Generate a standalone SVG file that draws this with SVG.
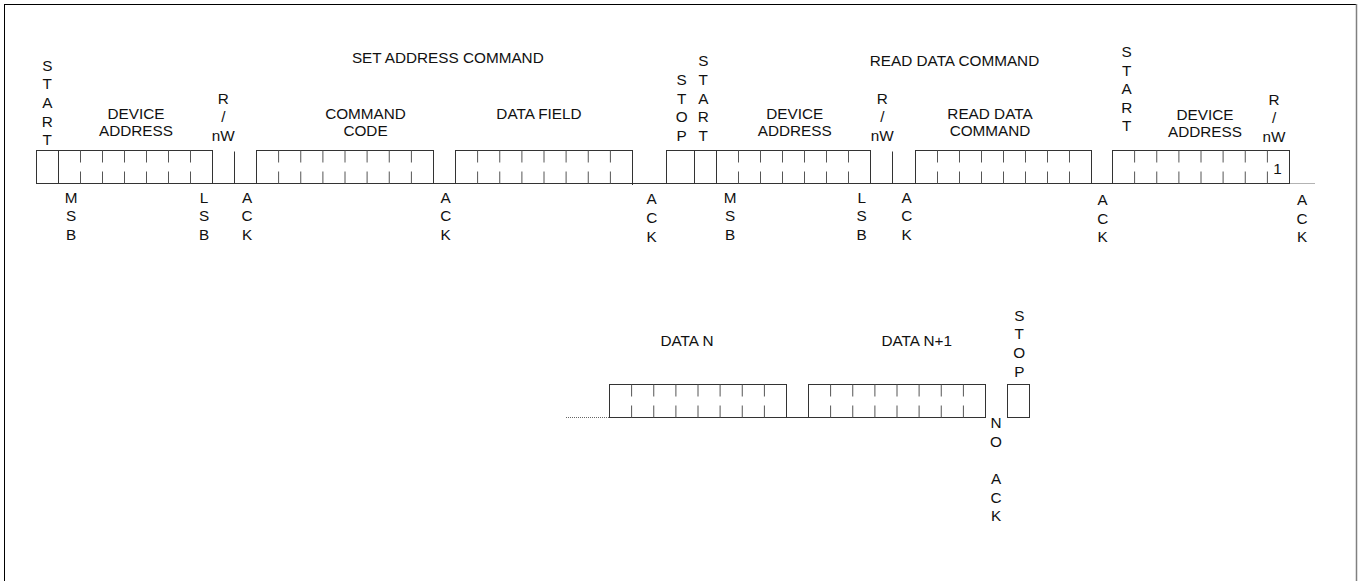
<svg xmlns="http://www.w3.org/2000/svg" width="1360" height="581" viewBox="0 0 1360 581">
<style>
  text { font-family: "Liberation Sans", Arial, sans-serif; font-size: 15.3px; fill: #111; text-anchor: middle; }
  .box { fill: none; stroke: #333; stroke-width: 1; }
  .tick { fill: none; stroke: #555; stroke-width: 1; }
  .base { fill: none; stroke: #333; stroke-width: 1; }
  .dot { fill: none; stroke: #666; stroke-width: 1; stroke-dasharray: 1 1; }
</style>
<rect x="0" y="0" width="1360" height="581" fill="#fff"/>
<g id="frame">
  <line x1="4" y1="4.5" x2="1357" y2="4.5" stroke="#000" stroke-width="1"/>
  <line x1="4.5" y1="4" x2="4.5" y2="581" stroke="#000" stroke-width="1"/>
  <line x1="1356.5" y1="4" x2="1356.5" y2="581" stroke="#808080" stroke-width="1.5"/>
</g>
<g id="connectors">
  <line class="base" x1="36.5" y1="183.5" x2="1289.5" y2="183.5"/>
  <line class="dot" x1="1289.5" y1="183.5" x2="1315" y2="183.5"/>
  <line class="base" x1="609.5" y1="417.5" x2="985.5" y2="417.5"/>
  <line class="dot" x1="566" y1="417.5" x2="609.5" y2="417.5"/>
</g>
<g id="headers">
  <text x="447.8" y="63.3">SET ADDRESS COMMAND</text>
  <text x="954.5" y="66">READ DATA COMMAND</text>
</g>
<g id="start1">
  <rect class="box" x="36.5" y="150.5" width="22" height="33"/>
  <text><tspan x="47.3" y="70.7">S</tspan><tspan x="47.3" y="89.3">T</tspan><tspan x="47.3" y="107.9">A</tspan><tspan x="47.3" y="126.5">R</tspan><tspan x="47.3" y="145.1">T</tspan></text>
</g>
<g id="device-address-1">
  <rect class="box" x="58.5" y="150.5" width="154" height="33"/>
  <path class="tick" d="M80.5,150.5v12M80.5,171.5v12M102.5,150.5v12M102.5,171.5v12M124.5,150.5v12M124.5,171.5v12M146.5,150.5v12M146.5,171.5v12M168.5,150.5v12M168.5,171.5v12M190.5,150.5v12M190.5,171.5v12"/>
  <text x="136" y="119.2">DEVICE</text>
  <text x="136" y="136.4">ADDRESS</text>
  <text><tspan x="71" y="202.7">M</tspan><tspan x="71" y="221.3">S</tspan><tspan x="71" y="239.9">B</tspan></text>
  <text><tspan x="204" y="202.7">L</tspan><tspan x="204" y="221.3">S</tspan><tspan x="204" y="239.9">B</tspan></text>
</g>
<g id="rnw-1">
  <line class="box" x1="234.5" y1="151.5" x2="234.5" y2="183.5"/>
  <text><tspan x="223.3" y="103.5">R</tspan><tspan x="223.3" y="122">/</tspan><tspan x="223.3" y="140.5">nW</tspan></text>
  <text><tspan x="247" y="202.7">A</tspan><tspan x="247" y="221.3">C</tspan><tspan x="247" y="239.9">K</tspan></text>
</g>
<g id="command-code">
  <rect class="box" x="256.5" y="150.5" width="177" height="33"/>
  <path class="tick" d="M278.6,150.5v12M278.6,171.5v12M300.75,150.5v12M300.75,171.5v12M322.9,150.5v12M322.9,171.5v12M345,150.5v12M345,171.5v12M367.1,150.5v12M367.1,171.5v12M389.25,150.5v12M389.25,171.5v12M411.4,150.5v12M411.4,171.5v12"/>
  <text x="365.5" y="119.2">COMMAND</text>
  <text x="365.5" y="136.4">CODE</text>
  <text><tspan x="445.7" y="202.7">A</tspan><tspan x="445.7" y="221.3">C</tspan><tspan x="445.7" y="239.9">K</tspan></text>
</g>
<g id="data-field">
  <rect class="box" x="455.5" y="150.5" width="177" height="33"/>
  <line class="box" x1="632.5" y1="183.5" x2="632.5" y2="185"/>
  <path class="tick" d="M477.6,150.5v12M477.6,171.5v12M499.75,150.5v12M499.75,171.5v12M521.9,150.5v12M521.9,171.5v12M544,150.5v12M544,171.5v12M566.1,150.5v12M566.1,171.5v12M588.25,150.5v12M588.25,171.5v12M610.4,150.5v12M610.4,171.5v12"/>
  <text x="539" y="119.2">DATA FIELD</text>
  <text><tspan x="651.7" y="204.3">A</tspan><tspan x="651.7" y="222.9">C</tspan><tspan x="651.7" y="241.5">K</tspan></text>
</g>
<g id="stop1">
  <rect class="box" x="666.5" y="150.5" width="28" height="33"/>
  <text><tspan x="681.7" y="85">S</tspan><tspan x="681.7" y="103.6">T</tspan><tspan x="681.7" y="122.2">O</tspan><tspan x="681.7" y="140.8">P</tspan></text>
</g>
<g id="start2">
  <rect class="box" x="694.5" y="150.5" width="22" height="33"/>
  <text><tspan x="703.3" y="66.4">S</tspan><tspan x="703.3" y="85">T</tspan><tspan x="703.3" y="103.6">A</tspan><tspan x="703.3" y="122.2">R</tspan><tspan x="703.3" y="140.8">T</tspan></text>
</g>
<g id="device-address-2">
  <rect class="box" x="716.5" y="150.5" width="154" height="33"/>
  <path class="tick" d="M738.5,150.5v12M738.5,171.5v12M760.5,150.5v12M760.5,171.5v12M782.5,150.5v12M782.5,171.5v12M804.5,150.5v12M804.5,171.5v12M826.5,150.5v12M826.5,171.5v12M848.5,150.5v12M848.5,171.5v12"/>
  <text x="794.7" y="119.2">DEVICE</text>
  <text x="794.7" y="136.4">ADDRESS</text>
  <text><tspan x="730" y="202.7">M</tspan><tspan x="730" y="221.3">S</tspan><tspan x="730" y="239.9">B</tspan></text>
  <text><tspan x="861.7" y="202.7">L</tspan><tspan x="861.7" y="221.3">S</tspan><tspan x="861.7" y="239.9">B</tspan></text>
</g>
<g id="rnw-2">
  <line class="box" x1="892.5" y1="151.5" x2="892.5" y2="183.5"/>
  <text><tspan x="882.3" y="103.5">R</tspan><tspan x="882.3" y="122">/</tspan><tspan x="882.3" y="140.5">nW</tspan></text>
  <text><tspan x="906.7" y="202.7">A</tspan><tspan x="906.7" y="221.3">C</tspan><tspan x="906.7" y="239.9">K</tspan></text>
</g>
<g id="read-data-command">
  <rect class="box" x="915.5" y="150.5" width="176" height="33"/>
  <path class="tick" d="M937.5,150.5v12M937.5,171.5v12M959.5,150.5v12M959.5,171.5v12M981.5,150.5v12M981.5,171.5v12M1003.5,150.5v12M1003.5,171.5v12M1025.5,150.5v12M1025.5,171.5v12M1047.5,150.5v12M1047.5,171.5v12M1069.5,150.5v12M1069.5,171.5v12"/>
  <text x="990" y="119.2">READ DATA</text>
  <text x="990" y="136.4">COMMAND</text>
  <text><tspan x="1102.7" y="205">A</tspan><tspan x="1102.7" y="223.6">C</tspan><tspan x="1102.7" y="242.2">K</tspan></text>
</g>
<g id="device-address-3">
  <rect class="box" x="1112.5" y="150.5" width="177" height="33"/>
  <path class="tick" d="M1134.6,150.5v12M1134.6,171.5v12M1156.75,150.5v12M1156.75,171.5v12M1178.9,150.5v12M1178.9,171.5v12M1201,150.5v12M1201,171.5v12M1223.1,150.5v12M1223.1,171.5v12M1245.25,150.5v12M1245.25,171.5v12M1267.4,150.5v12M1267.4,171.5v12"/>
  <text><tspan x="1126.7" y="57">S</tspan><tspan x="1126.7" y="75.6">T</tspan><tspan x="1126.7" y="94.2">A</tspan><tspan x="1126.7" y="112.8">R</tspan><tspan x="1126.7" y="131.4">T</tspan></text>
  <text x="1205" y="119.6">DEVICE</text>
  <text x="1205" y="136.8">ADDRESS</text>
  <text><tspan x="1274" y="104.7">R</tspan><tspan x="1274" y="123.2">/</tspan><tspan x="1274" y="141.7">nW</tspan></text>
  <text x="1277.5" y="173.5">1</text>
  <text><tspan x="1302" y="205">A</tspan><tspan x="1302" y="223.6">C</tspan><tspan x="1302" y="242.2">K</tspan></text>
</g>
<g id="data-n">
  <rect class="box" x="609.5" y="384.5" width="177" height="33"/>
  <path class="tick" d="M631.6,384.5v12M631.6,405.5v12M653.75,384.5v12M653.75,405.5v12M675.9,384.5v12M675.9,405.5v12M698,384.5v12M698,405.5v12M720.1,384.5v12M720.1,405.5v12M742.25,384.5v12M742.25,405.5v12M764.4,384.5v12M764.4,405.5v12"/>
  <text x="687" y="345.8">DATA N</text>
</g>
<g id="data-n1">
  <rect class="box" x="808.5" y="384.5" width="177" height="33"/>
  <path class="tick" d="M830.6,384.5v12M830.6,405.5v12M852.75,384.5v12M852.75,405.5v12M874.9,384.5v12M874.9,405.5v12M897,384.5v12M897,405.5v12M919.1,384.5v12M919.1,405.5v12M941.25,384.5v12M941.25,405.5v12M963.4,384.5v12M963.4,405.5v12"/>
  <text x="916.7" y="346">DATA N+1</text>
  <text><tspan x="996" y="428.3">N</tspan><tspan x="996" y="446.9">O</tspan><tspan x="996" y="484.1">A</tspan><tspan x="996" y="502.7">C</tspan><tspan x="996" y="521.3">K</tspan></text>
</g>
<g id="stop2">
  <rect class="box" x="1007.5" y="384.5" width="22" height="33"/>
  <text><tspan x="1019.3" y="320.7">S</tspan><tspan x="1019.3" y="339.3">T</tspan><tspan x="1019.3" y="357.9">O</tspan><tspan x="1019.3" y="376.5">P</tspan></text>
</g>
</svg>
